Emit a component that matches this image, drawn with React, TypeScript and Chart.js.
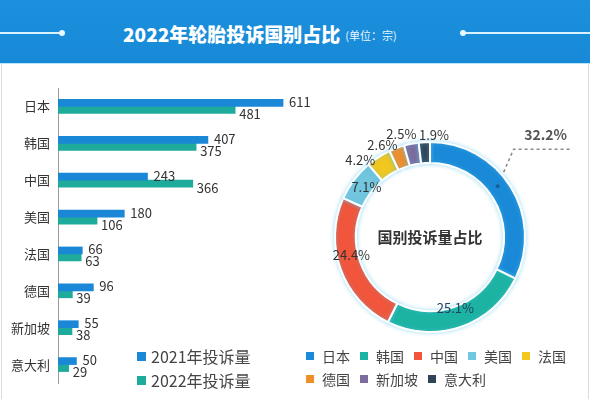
import React, { useEffect, useRef } from "react";
import { Chart, registerables } from "chart.js";

Chart.register(...registerables);

// ---------- data ----------
const countries = ["日本", "韩国", "中国", "美国", "法国", "德国", "新加坡", "意大利"];
const complaints2021 = [611, 407, 243, 180, 66, 96, 55, 50];
const complaints2022 = [481, 375, 366, 106, 63, 39, 38, 29];
const seriesNames = ["2021年投诉量", "2022年投诉量"];
const sharePercent = [32.2, 25.1, 24.4, 7.1, 4.2, 2.6, 2.5, 1.9];
const titleText = "2022年轮胎投诉国别占比";
const unitText = "(单位：宗)";
const donutCenterText = "国别投诉量占比";

// ---------- styles ----------
const FONT = '"Noto Sans CJK SC", "Noto Sans", sans-serif';
const BAR_COLORS = ["#1a87d7", "#1eab9c"];
const SLICE_COLORS = ["#1a8ad8", "#1db3a3", "#f1553b", "#72c6de", "#f2c71e", "#ef8f2c", "#7d6c9e", "#2f4457"];
// label nudges (px) relative to the ring mid-radius point of each slice
const LABEL_NUDGE: [number, number][] = [
  [-4, -6], [-2, -9], [1, -11], [4, 1], [-24, -6], [-18, -13], [-12, -20], [9, -18],
];

const barValueLabels = {
  id: "barValueLabels",
  afterDatasetsDraw(chart: any) {
    const ctx = chart.ctx;
    ctx.save();
    ctx.font = `13px ${FONT}`;
    ctx.fillStyle = "#333";
    ctx.textBaseline = "middle";
    ctx.textAlign = "left";
    chart.data.datasets.forEach((ds: any, di: number) => {
      const meta = chart.getDatasetMeta(di);
      meta.data.forEach((el: any, i: number) => {
        const dx = di === 0 ? 6 : 4;
        const dy = di === 0 ? -1 : 4;
        ctx.fillText(String(ds.data[i]), el.x + dx, el.y + dy);
      });
    });
    ctx.restore();
  },
};

const donutDecor = {
  id: "donutDecor",
  beforeDatasetsDraw(chart: any) {
    const ctx = chart.ctx;
    ctx.save();
    ctx.shadowColor = "rgba(90,200,240,0.5)";
    ctx.shadowBlur = 4;
  },
  afterDatasetsDraw(chart: any) {
    const ctx = chart.ctx;
    ctx.restore();
    const meta = chart.getDatasetMeta(0);
    const arcs = meta.data;
    if (!arcs.length) return;
    const cx = arcs[0].x;
    const cy = arcs[0].y;
    ctx.save();
    ctx.font = `bold 15px ${FONT}`;
    ctx.fillStyle = "#333";
    ctx.textAlign = "center";
    ctx.textBaseline = "middle";
    ctx.fillText(donutCenterText, cx, cy);

    arcs.forEach((el: any, i: number) => {
      const mid = (el.startAngle + el.endAngle) / 2;
      const r = (el.innerRadius + el.outerRadius) / 2;
      const bx = cx + r * Math.cos(mid) + LABEL_NUDGE[i][0];
      const by = cy + r * Math.sin(mid) + LABEL_NUDGE[i][1];
      const label = sharePercent[i].toFixed(1) + "%";
      if (i === 0) {
        ctx.fillStyle = "#17609c";
        ctx.beginPath();
        ctx.arc(bx, by, 2, 0, Math.PI * 2);
        ctx.fill();
        const sx = bx + 6, sy = by - 14;
        const ex = bx + 16, ey = by - 37;
        ctx.strokeStyle = "#8a8a8a";
        ctx.lineWidth = 1.5;
        ctx.setLineDash([3, 3]);
        ctx.beginPath();
        ctx.moveTo(sx, sy);
        ctx.lineTo(ex, ey);
        ctx.lineTo(ex + 59, ey);
        ctx.stroke();
        ctx.setLineDash([]);
        ctx.font = `bold 14px ${FONT}`;
        ctx.fillStyle = "#555";
        ctx.fillText(label, ex + 32, ey - 14);
      } else {
        ctx.font = `13px ${FONT}`;
        ctx.fillStyle = i === 1 ? "#24415e" : "#333";
        ctx.fillText(label, bx, by);
      }
    });
    ctx.restore();
  },
};

function BarChart() {
  const ref = useRef<HTMLCanvasElement>(null);
  useEffect(() => {
    if (!ref.current) return;
    const chart = new Chart(ref.current, {
      type: "bar",
      data: {
        labels: countries,
        datasets: [
          { label: seriesNames[0], data: complaints2021, backgroundColor: BAR_COLORS[0], barThickness: 7, borderWidth: 0 },
          { label: seriesNames[1], data: complaints2022, backgroundColor: BAR_COLORS[1], barThickness: 7, borderWidth: 0 },
        ],
      },
      options: {
        indexAxis: "y",
        responsive: false,
        animation: false,
        layout: { padding: { top: 25, bottom: 16, right: 10, left: 0 } },
        plugins: { legend: { display: false }, tooltip: { enabled: false } },
        scales: {
          x: { display: false, min: 0, max: 657 },
          y: {
            grid: { display: false, drawTicks: false },
            border: { display: true, color: "#9a9a9a", width: 1 },
            ticks: { color: "#333", padding: 8, font: { size: 13, family: FONT } },
            afterFit: (scale: any) => {
              scale.width = 58;
            },
          },
        },
      } as any,
      plugins: [barValueLabels],
    });
    return () => chart.destroy();
  }, []);
  return <canvas ref={ref} width={310} height={336} style={{ position: "absolute", left: 0, top: 63 }} />;
}

function DonutChart() {
  const ref = useRef<HTMLCanvasElement>(null);
  useEffect(() => {
    if (!ref.current) return;
    const chart = new Chart(ref.current, {
      type: "doughnut",
      data: {
        labels: countries,
        datasets: [
          {
            data: sharePercent,
            backgroundColor: SLICE_COLORS,
            borderColor: "#ffffff",
            borderWidth: 2,
          },
        ],
      },
      options: {
        responsive: false,
        animation: false,
        cutout: "78%",
        layout: { padding: { left: 24, right: 64, top: 78, bottom: 20 } },
        plugins: { legend: { display: false }, tooltip: { enabled: false } },
      } as any,
      plugins: [donutDecor],
    });
    return () => chart.destroy();
  }, []);
  return <canvas ref={ref} width={280} height={290} style={{ position: "absolute", left: 310, top: 63 }} />;
}

function LegendItem({ color, text, size }: { color: string; text: string; size: number }) {
  return (
    <div style={{ display: "flex", alignItems: "center", whiteSpace: "nowrap" }}>
      <span style={{ display: "inline-block", width: size === 16 ? 9 : 8, height: size === 16 ? 9 : 8, background: color, marginRight: size === 16 ? 5 : 8 }} />
      <span style={{ fontSize: size, color: "#444", fontFamily: FONT, lineHeight: "20px" }}>{text}</span>
    </div>
  );
}

export default function App() {
  const row1 = countries.slice(0, 5);
  const row2 = countries.slice(5);
  return (
    <div style={{ position: "absolute", left: 0, top: 0, width: 590, height: 399, background: "#fff", overflow: "hidden", fontFamily: FONT }}>
      {/* banner */}
      <div style={{ position: "absolute", left: 0, top: 0, width: 590, height: 63, background: "linear-gradient(#1c90dd, #1789d7)" }} />
      <div style={{ position: "absolute", left: 0, top: 63, width: 590, height: 1, background: "#b9e4f8" }} />
      <div style={{ position: "absolute", left: 0, top: 32, width: 62, height: 1.5, background: "#d6f1ff" }} />
      <div style={{ position: "absolute", left: 59, top: 30, width: 6, height: 6, borderRadius: 3, background: "#e6f7ff" }} />
      <div style={{ position: "absolute", left: 463, top: 32, width: 127, height: 1.5, background: "#d6f1ff" }} />
      <div style={{ position: "absolute", left: 460, top: 30, width: 6, height: 6, borderRadius: 3, background: "#e6f7ff" }} />
      <div style={{ position: "absolute", left: 123, top: 18, height: 30, display: "flex", alignItems: "center", color: "#fff", whiteSpace: "nowrap" }}>
        <span style={{ fontSize: 19, fontWeight: 900 }}>{titleText}</span>
        <span style={{ fontSize: 11, marginLeft: 5, marginTop: 3, color: "#e8f6ff" }}>{unitText}</span>
      </div>
      {/* panel borders */}
      <div style={{ position: "absolute", left: 1, top: 64, width: 1, height: 335, background: "#dcdcdc" }} />
      <div style={{ position: "absolute", left: 588, top: 64, width: 1, height: 335, background: "#dcdcdc" }} />

      <BarChart />
      <DonutChart />

      {/* bar legend */}
      <div style={{ position: "absolute", left: 137, top: 346 }}>
        <LegendItem color={BAR_COLORS[0]} text={seriesNames[0]} size={16} />
      </div>
      <div style={{ position: "absolute", left: 137, top: 370 }}>
        <LegendItem color={BAR_COLORS[1]} text={seriesNames[1]} size={16} />
      </div>

      {/* donut legend */}
      <div style={{ position: "absolute", left: 306, top: 346, display: "flex", gap: 10 }}>
        {row1.map((c, i) => (
          <LegendItem key={c} color={SLICE_COLORS[i]} text={c} size={14} />
        ))}
      </div>
      <div style={{ position: "absolute", left: 306, top: 369, display: "flex", gap: 10 }}>
        {row2.map((c, i) => (
          <LegendItem key={c} color={SLICE_COLORS[i + 5]} text={c} size={14} />
        ))}
      </div>
    </div>
  );
}
